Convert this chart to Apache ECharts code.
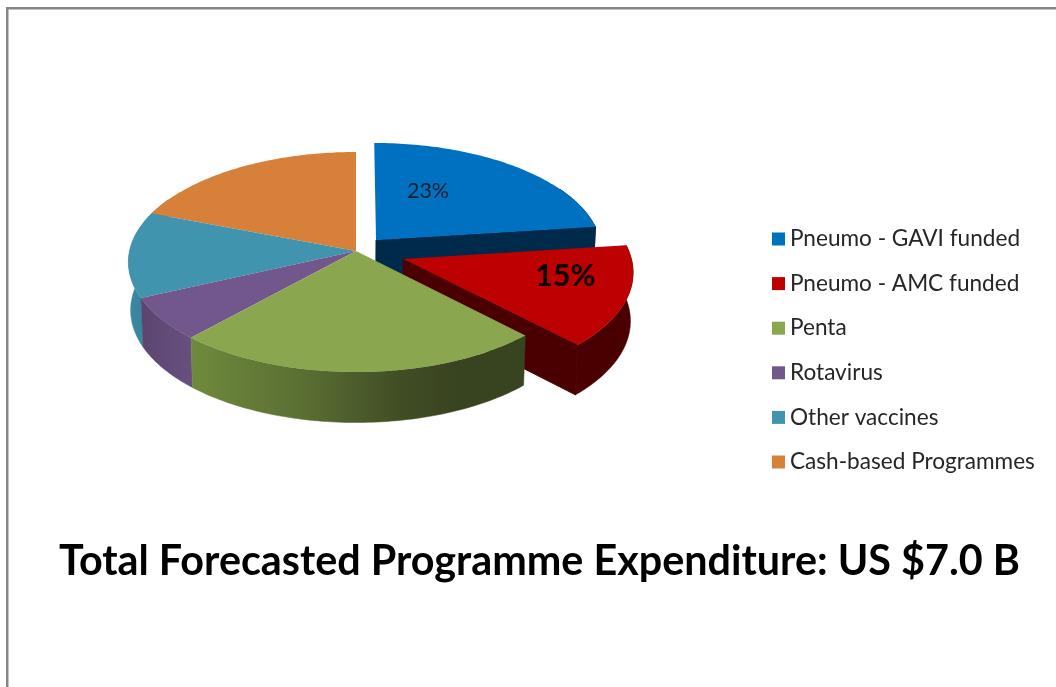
<!DOCTYPE html>
<html>
<head>
<meta charset="utf-8">
<style>html,body{margin:0;padding:0;background:#fff}#c{width:1056px;height:687px}</style>
<script src="https://cdn.jsdelivr.net/npm/echarts@6/dist/echarts.min.js"></script>
</head>
<body>
<div id="c"></div>
<script>
// ---- data ----
const categories = ['Pneumo - GAVI funded','Pneumo - AMC funded','Penta','Rotavirus','Other vaccines','Cash-based Programmes'];
const shares = [23, 14.8, 24, 6.4, 12.6, 19.2];
const explosions = [0.135, 0.22, 0, 0, 0, 0];
const sliceLabels = ['23%', '15%', '', '', '', ''];
const chartTitle = 'Total Forecasted Programme Expenditure: US $7.0 B';

// ---- styling and layout ----
const topColors = ['#0070c0','#bd0000','#8aa64e','#71578c','#4194ad','#d7803a'];
const sideStops = [
  [[0,'#002a4c'],[1,'#002a4c']],
  [[0,'#4a0000'],[1,'#4a0000']],
  [[0,'#6f8a3c'],[0.33,'#5b6f33'],[0.62,'#414e25'],[0.8,'#38431f'],[1,'#38431f']],
  [[0,'#5b4570'],[1,'#67507f']],
  [[0,'#3a8aa2'],[1,'#37809a']],
  [[0,'#b06a30'],[1,'#b06a30']]
];
const paintOrder = [5,4,3,0,1,2];
const CX = 356, CY = 251, RX = 226.5, RY = 108.9, PERSP = 0.1, DEPTH = 48, DEPTH_PERSP = 0.05;
const labelOffsets = [[52,-49],[162,17]];
const labelFonts = [
  {fontSize:21.5, fontWeight:'normal', fill:'#14202c'},
  {fontSize:30.5, fontWeight:'bold', fill:'#0a0000'}
];

const total = shares.reduce((a,b)=>a+b,0);
function project(u, v, down){
  const w = 1 + PERSP * v;
  const x = RX * u / w, y = -RY * v / w;
  if (!down) return [CX + x, CY + y];
  return [CX + x * 0.99, CY + y + DEPTH / (1 + DEPTH_PERSP * v)];
}
function sliceAngles(i){
  let acc = 0;
  for (let k = 0; k < i; k++) acc += shares[k];
  return [acc / total * 2 * Math.PI, (acc + shares[i]) / total * 2 * Math.PI];
}
function renderSlice(i){
  const [a0, a1] = sliceAngles(i);
  const mid = (a0 + a1) / 2, d = explosions[i];
  const ou = d * Math.sin(mid), ov = d * Math.cos(mid);
  const steps = 80, top = [], rimTop = [], rimBottom = [];
  for (let s = 0; s <= steps; s++){
    const t = a0 + (a1 - a0) * s / steps;
    const u = ou + Math.sin(t), v = ov + Math.cos(t);
    top.push(project(u, v, false));
    // only the part of the rim that faces the viewer
    if (Math.cos(t) < 0.5){
      rimTop.push(project(u, v, false));
      rimBottom.push(project(u, v, true));
    }
  }
  const centre = project(ou, ov, false), centreDown = project(ou, ov, true);
  const children = [];
  const sideFill = new echarts.graphic.LinearGradient(0,0,1,0,sideStops[i].map(p=>({offset:p[0],color:p[1]})));
  if (rimTop.length > 1){
    children.push({type:'polygon', shape:{points: rimTop.concat(rimBottom.slice().reverse())}, style:{fill: sideFill, stroke: sideFill, lineWidth:0.5}});
  }
  // exposed radial wall of an exploded slice
  if (d > 0){
    const c = sideStops[i][0][1];
    const endA = a1, eu = ou + Math.sin(endA), ev = ov + Math.cos(endA);
    children.push({type:'polygon', shape:{points:[centre, project(eu,ev,false), project(eu,ev,true), centreDown]}, style:{fill: c, stroke: c, lineWidth:1}});
  }
  // top face
  children.push({type:'polygon', shape:{points:[centre].concat(top)}, style:{fill: topColors[i]}});
  if (sliceLabels[i]){
    const off = labelOffsets[i], f = labelFonts[i];
    children.push({type:'text', style:{
      text: sliceLabels[i], x: centre[0] + off[0], y: centre[1] + off[1],
      align:'center', verticalAlign:'middle',
      fontFamily:'Lato', fontSize:f.fontSize, fontWeight:f.fontWeight, fill:f.fill
    }});
  }
  return {type:'group', children};
}

const series = categories.map((name, i) => ({
  type:'custom',
  name,
  coordinateSystem:'none',
  z: 2 + paintOrder.indexOf(i),
  silent:true,
  animation:false,
  itemStyle:{color: topColors[i]},
  data:[[shares[i]]],
  renderItem: () => renderSlice(i)
}));

const chart = echarts.init(document.getElementById('c'), null, {renderer:'canvas'});
chart.setOption({
  backgroundColor:'#fff',
  animation:false,
  title:{
    text: chartTitle, left:539.5, top:562, padding:0, textAlign:'center', textVerticalAlign:'middle',
    textStyle:{fontFamily:'Lato', fontWeight:'bold', fontSize:41.3, color:'#000'}
  },
  legend:{
    orient:'vertical', left:772, top:227, padding:0, icon:'rect', itemWidth:13, itemHeight:13, itemGap:20.6,
    selectedMode:false, data:categories,
    textStyle:{fontFamily:'Lato', fontSize:22.6, lineHeight:24, color:'#262626'}
  },
  graphic:[
    {type:'rect', silent:true, shape:{x:6,y:7,width:1050,height:2.5}, style:{fill:'#868686'}},
    {type:'rect', silent:true, shape:{x:6,y:7,width:2.5,height:680}, style:{fill:'#868686'}}
  ],
  series
});
</script>
</body>
</html>
